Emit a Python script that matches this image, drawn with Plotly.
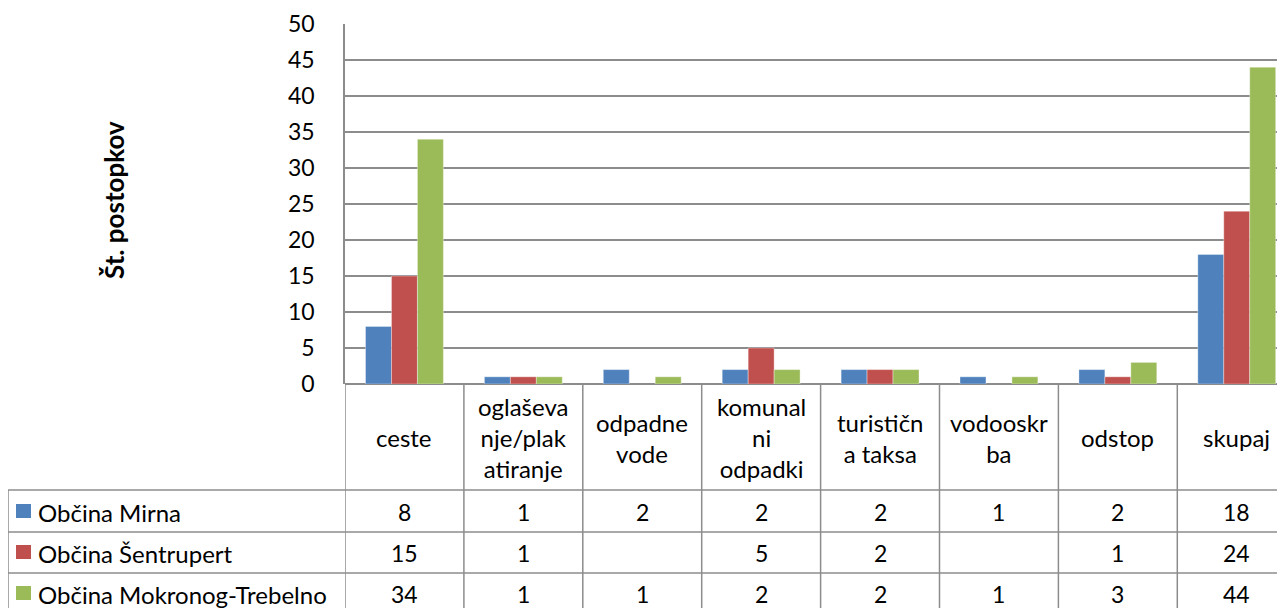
import plotly.graph_objects as go

categories = ["ceste", "oglaševa<br>nje/plak<br>atiranje", "odpadne<br>vode", "komunal<br>ni<br>odpadki",
              "turističn<br>a taksa", "vodooskr<br>ba", "odstop", "skupaj"]
series_names = ["Občina Mirna", "Občina Šentrupert", "Občina Mokronog-Trebelno"]
mirna = [8, 1, 2, 2, 2, 1, 2, 18]
sentrupert = [15, 1, None, 5, 2, None, 1, 24]
mokronog = [34, 1, 1, 2, 2, 1, 3, 44]
colors = ["#4F81BD", "#C0504D", "#9BBB59"]
y_ticks = [0, 5, 10, 15, 20, 25, 30, 35, 40, 45, 50]
y_title = "Št. postopkov"

series = [mirna, sentrupert, mokronog]
FONT = "Lato"
OFF = 8  # page body margin
W, H = 1285 - OFF, 608 - OFF
L, T = 345 - OFF, 24 - OFF
BOTTOM_PX = 384 - OFF
B = H - BOTTOM_PX
plot_h = H - T - B
plot_w = W - L
cat_w = 118.9
x_idx = list(range(len(categories)))

fig = go.Figure()
for name, vals, c in zip(series_names, series, colors):
    fig.add_trace(go.Bar(x=x_idx, y=vals, name=name,
                         marker=dict(color=c, line=dict(width=0.6, color="rgba(255,255,255,0.6)"))))

def py(px):  # reference pixel y -> paper y
    return (BOTTOM_PX - (px - OFF)) / plot_h

def pxx(px):  # reference pixel x -> paper x
    return ((px - OFF) - L) / plot_w

grey = "#8c8c8c"
shapes = []
ann = []
for i in range(len(categories) + 1):
    shapes.append(dict(type="line", xref="x", yref="paper", x0=i - 0.5, x1=i - 0.5,
                       y0=0, y1=py(620), line=dict(color=grey, width=1.5)))
shapes.append(dict(type="line", xref="paper", yref="paper", x0=pxx(8), x1=pxx(8),
                   y0=py(490), y1=py(620), line=dict(color=grey, width=1.5)))
for yy in [490, 532, 573]:
    shapes.append(dict(type="line", xref="paper", yref="paper", x0=pxx(8), x1=1.02,
                       y0=py(yy), y1=py(yy), line=dict(color=grey, width=1.5)))
for i, cat in enumerate(categories):
    ann.append(dict(x=i, y=py(438), xref="x", yref="paper", text=cat, showarrow=False,
                    xanchor="center", yanchor="middle",
                    font=dict(family=FONT, size=24, color="black"), align="center"))
row_centers = [512, 553, 594]
for r, (name, vals, c) in enumerate(zip(series_names, series, colors)):
    yc = row_centers[r]
    shapes.append(dict(type="rect", xref="paper", yref="paper", x0=pxx(16), x1=pxx(31),
                       y0=py(yc - 8), y1=py(yc + 6), fillcolor=c, line=dict(width=0)))
    ann.append(dict(x=pxx(36), y=py(yc), xref="paper", yref="paper", text=name, showarrow=False,
                    xanchor="left", yanchor="middle", font=dict(family=FONT, size=24, color="black")))
    for i, v in enumerate(vals):
        if v is None:
            continue
        ann.append(dict(x=i, y=py(yc), xref="x", yref="paper", text=str(v), showarrow=False,
                        xanchor="center", yanchor="middle",
                        font=dict(family=FONT, size=23, color="black")))
ann.append(dict(x=pxx(114), y=py(200), xref="paper", yref="paper", text="<b>" + y_title + "</b>",
                showarrow=False, textangle=-90, xanchor="center", yanchor="middle",
                font=dict(family=FONT, size=26, color="black")))

fig.update_layout(
    width=W, height=H,
    margin=dict(l=L, r=0, t=T, b=B, pad=0),
    paper_bgcolor="white", plot_bgcolor="white",
    barmode="group", bargap=0.345, bargroupgap=0,
    showlegend=False,
    font=dict(family=FONT, size=22, color="black"),
    shapes=shapes, annotations=ann,
    xaxis=dict(range=[-0.5, -0.5 + plot_w / cat_w], showticklabels=False, showgrid=False,
               zeroline=False, showline=False, fixedrange=True),
    yaxis=dict(range=[0, 50], tickvals=y_ticks, showgrid=True, gridcolor=grey, gridwidth=1.5,
               showline=True, linecolor=grey, linewidth=1.5, zeroline=True, zerolinecolor=grey,
               zerolinewidth=1.5, ticks="", ticklabelstandoff=24,
               tickfont=dict(family=FONT, size=23, color="black")),
)
fig.write_html("out.html")
